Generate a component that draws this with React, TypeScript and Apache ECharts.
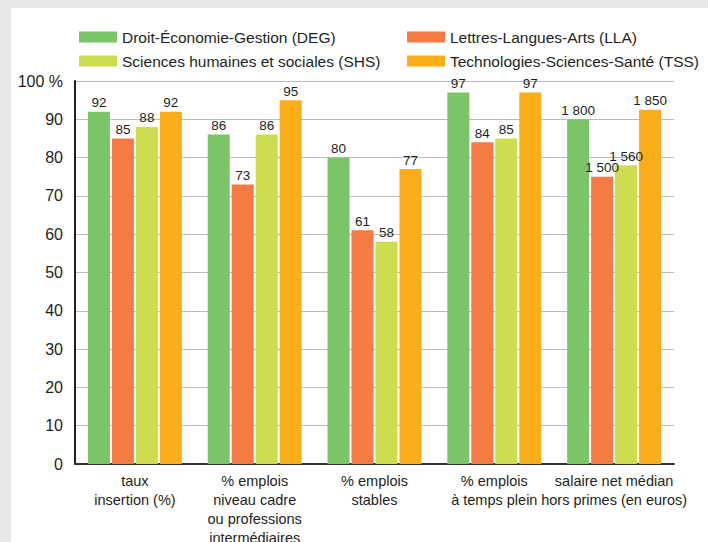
import React, { useEffect, useRef } from "react";
import * as echarts from "echarts";

const categories = [
  "taux\ninsertion (%)",
  "% emplois\nniveau cadre\nou professions\nintermédiaires",
  "% emplois\nstables",
  "% emplois\nà temps plein",
  "salaire net médian\nhors primes (en euros)",
];
const seriesNames = [
  "Droit-Économie-Gestion (DEG)",
  "Lettres-Langues-Arts (LLA)",
  "Sciences humaines et sociales (SHS)",
  "Technologies-Sciences-Santé (TSS)",
];
// percentages for the first four categories
const degPct = [92, 86, 80, 97];
const llaPct = [85, 73, 61, 84];
const shsPct = [88, 86, 58, 85];
const tssPct = [92, 95, 77, 97];
// median net salary (euros), drawn on the same scale: 2000 € = 100
const salaryEuros = [1800, 1500, 1560, 1850];
const salaryPerUnit = 20;
const colors = ["#7bc567", "#f47c44", "#cedd50", "#faae1a"];
const yTicks = { min: 0, max: 100, interval: 10 };

const FONT = "'Liberation Sans', Arial, sans-serif";
const TXT = "#231f20";

function fmtSalary(v: number) {
  const s = String(v);
  return s.length > 3 ? s.slice(0, s.length - 3) + " " + s.slice(-3) : s;
}

export default function App() {
  const ref = useRef<HTMLDivElement>(null);
  useEffect(() => {
    if (!ref.current) return;
    const chart = echarts.init(ref.current, null, { renderer: "svg" });
    const pcts = [degPct, llaPct, shsPct, tssPct];
    const series = pcts.map((p, si) => ({
      name: seriesNames[si],
      type: "bar",
      barWidth: 22,
      barGap: "9%",
      itemStyle: { color: colors[si] },
      data: [...p, salaryEuros[si] / salaryPerUnit],
      label: {
        show: true,
        position: "top",
        distance: 2,
        fontFamily: FONT,
        fontSize: 13.5,
        color: TXT,
        formatter: (params: any) =>
          params.dataIndex === 4 ? fmtSalary(salaryEuros[si]) : String(p[params.dataIndex]),
      },
    }));
    const legendCommon = {
      orient: "vertical",
      itemWidth: 38,
      itemHeight: 11,
      itemGap: 8,
      icon: "rect",
      textStyle: { fontFamily: FONT, fontSize: 15.5, color: TXT },
    };
    chart.setOption({
      animation: false,
      backgroundColor: "#ffffff",
      color: colors,
      legend: [
        { ...legendCommon, left: 63, top: 16, data: [seriesNames[0], seriesNames[2]] },
        { ...legendCommon, left: 391, top: 16, data: [seriesNames[1], seriesNames[3]] },
      ],
      grid: {
        left: 64,
        right: 34,
        top: 73,
        bottom: 78,
        containLabel: false,
        outerBoundsMode: "none",
      },
      xAxis: {
        type: "category",
        data: categories,
        axisLine: { show: true, lineStyle: { color: "#333333", width: 2 } },
        axisTick: { show: false },
        axisLabel: {
          fontFamily: FONT,
          fontSize: 14.5,
          color: TXT,
          lineHeight: 19,
          margin: 7,
          interval: 0,
        },
      },
      yAxis: {
        type: "value",
        min: yTicks.min,
        max: yTicks.max,
        interval: yTicks.interval,
        axisLine: { show: true, lineStyle: { color: TXT, width: 2 } },
        axisTick: { show: false },
        axisLabel: {
          fontFamily: FONT,
          fontSize: 16,
          color: TXT,
          margin: 12,
          formatter: (v: number) => (v === 100 ? "100 %" : String(v)),
        },
        splitLine: { show: true, lineStyle: { color: "#bdbdbd", width: 1.2 } },
      },
      series,
    });
    return () => chart.dispose();
  }, []);
  return (
    <div
      style={{
        position: "absolute",
        left: 0,
        top: 0,
        width: 708,
        height: 542,
        background: "#e6e7e8",
        overflow: "hidden",
      }}
    >
      <div
        ref={ref}
        style={{ position: "absolute", left: 11, top: 8, width: 697, height: 534 }}
      />
    </div>
  );
}
